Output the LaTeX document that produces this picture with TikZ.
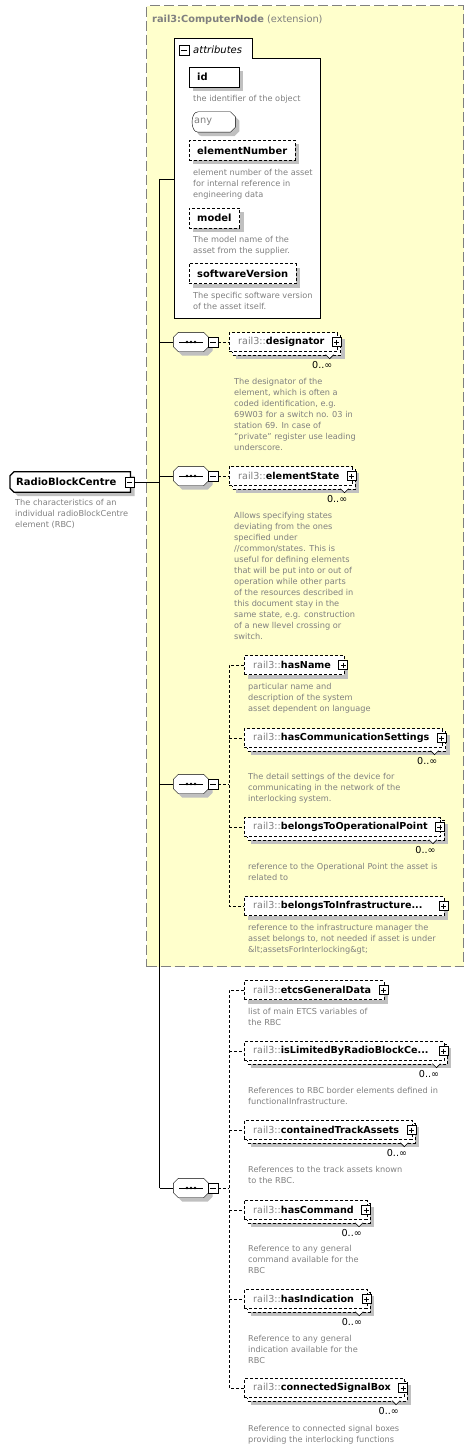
\documentclass[tikz,border=0pt]{standalone}
\usepackage{fontspec}
\setmainfont{DejaVu Sans}
\usetikzlibrary{shadows}
\pgfdeclarelayer{back}
\pgfsetlayers{back,main}
\definecolor{extyellow}{RGB}{255,255,204}
\definecolor{extborder}{RGB}{128,128,128}
\definecolor{descgray}{RGB}{128,128,128}
\definecolor{shadowgray}{RGB}{192,192,192}
\tikzset{
	shadowed/.style={drop shadow={shadow xshift=4pt, shadow yshift=-4pt, fill=shadowgray, opacity=1}},
	fine dash/.style={dash pattern=on 3pt off 2pt},
	extbox/.style={fill=extyellow, draw=extborder, line width=1.2pt, dash pattern=on 10pt off 4pt, inner sep=0pt},
	titletext/.style={anchor=west, text=descgray, font=\fontsize{9.8}{12}\selectfont, inner sep=0pt},
	tablabel/.style={anchor=west, font=\fontsize{10}{12}\selectfont\itshape, inner sep=0pt},
	attrbox/.style={draw, fill=white, minimum height=20pt, inner xsep=8pt, inner ysep=0pt, font=\fontsize{9.9}{12}\selectfont\bfseries, anchor=west},
	anytext/.style={anchor=west, text=descgray, font=\fontsize{9.8}{12}\selectfont, text width=36pt, align=left, minimum height=20pt, inner xsep=5pt, inner ysep=0pt},
	outline/.style={draw, fill=white, shadowed},
	elembox/.style={draw, fine dash, fill=white, minimum height=19pt, inner xsep=9pt, inner ysep=0pt, font=\fontsize{9.6}{12}\selectfont, anchor=west},
	rootbox/.style={minimum height=20pt, inner xsep=6pt, inner ysep=0pt, font=\fontsize{10}{12}\selectfont\bfseries, anchor=west},
	rootline/.style={outline, line width=1.2pt},
	desc/.style={text=descgray, font=\fontsize{8.2}{11}\selectfont, align=left, anchor=north west, inner sep=0pt},
	mult/.style={font=\fontsize{9.6}{12}\selectfont, anchor=north east, inner sep=0pt},
	seqicon/.style={minimum width=35pt, minimum height=19pt, inner sep=0pt},
	minusbox/.style={draw, fill=white, minimum size=9.5pt, inner sep=0pt,
		path picture={\draw ([xshift=2pt]path picture bounding box.west) -- ([xshift=-2pt]path picture bounding box.east);}},
	plusbox/.style={draw, fill=white, minimum size=9pt, inner sep=0pt,
		path picture={
			\draw ([xshift=2pt]path picture bounding box.west) -- ([xshift=-2pt]path picture bounding box.east);
			\draw ([yshift=-2pt]path picture bounding box.north) -- ([yshift=2pt]path picture bounding box.south);
		}},
	stackback/.style={draw, fine dash, fill=white, shadowed},
	notch/.style={draw, fill=white, line width=0.6pt},
	branch/.style={fine dash},
}
\begin{document}
\begin{tikzpicture}[x=1pt, y=-1pt, line width=0.8pt]
		\useasboundingbox (0,0) rectangle (476,1450);

		\begin{pgfonlayer}{back}
		\node[extbox, minimum width=317pt, minimum height=961pt, anchor=north west] (ext) at (146,5) {};
		\node[fill=white, minimum width=146pt, minimum height=260pt, anchor=north west, inner sep=0pt] (attrs) at (174,58) {};
		\node[fill=white, minimum width=78pt, minimum height=19pt, anchor=south west, inner sep=0pt] (attrtab) at (attrs.north west) {};
		\end{pgfonlayer}
		\node[titletext] (title) at (152,20) {\textbf{rail3:ComputerNode} (extension)};

		\draw (attrs.south west) -- (attrtab.north west) -- (attrtab.north east) -- (attrtab.south east) -- (attrs.north east) -- (attrs.south east) -- cycle;
		\node[minusbox] (attrminus) at (184,50) {};
		\node[tablabel] (attrlabel) at (193,50) {attributes};

		\node[attrbox, text width=34pt, align=left, shadowed] (attid) at (189,77) {id};
		\node[desc] (attiddesc) at (193,95) {the identifier of the object};
		\node[anytext] (attany) at (189,122) {any};
		\node[attrbox, fine dash, shadowed] (attelnum) at (189,150.5) {elementNumber};
		\node[desc] (attelnumdesc) at (193,169) {element number of the asset\\for internal reference in\\engineering data};
		\node[attrbox, fine dash, shadowed] (attmodel) at (189,218) {model};
		\node[desc] (attmodeldesc) at (193,236) {The model name of the\\asset from the supplier.};
		\node[attrbox, fine dash, shadowed] (attsw) at (189,273.5) {softwareVersion};
		\node[desc] (attswdesc) at (193,292) {The specific software version\\of the asset itself.};

		\coordinate (bustop) at (159.5,179);
		\coordinate (busbot) at (159.5,1188);
		\draw (bustop) -- (busbot);
		\draw (bustop) -- (attrs.west |- bustop);

		\node[rootbox] (rbc) at (10,482) {RadioBlockCentre\hspace*{8pt}};
		\node[minusbox] (rbcminus) at ([xshift=-1pt]rbc.east) {};
		\draw (rbcminus.east) -- (rbcminus.east -| bustop);
		\node[desc] (rbcdesc) at (15,499) {The characteristics of an\\individual radioBlockCentre\\element (RBC)};

		\node[seqicon] (seq1) at (191,342) {};
		\node[minusbox] (seq1minus) at (213,342) {};
		\draw (seq1.west -| bustop) -- (seq1.west);
		\draw ([xshift=-12pt]seq1.center) -- ([xshift=12pt]seq1.center);
		\fill ([xshift=-4pt]seq1.center) circle (1.4pt) (seq1.center) circle (1.4pt) ([xshift=4pt]seq1.center) circle (1.4pt);
		\node[elembox] (desig) at (229,342) {{\color{descgray}rail3::}\textbf{designator}\hspace*{4pt}};
		\node[plusbox] (desigplus) at ([xshift=-1pt]desig.east) {};
		\draw[branch] (seq1minus.east) -- (desig.west);
		\draw[notch] ([shift={(-12,3)}]desig.south east) -- ([shift={(-8,7)}]desig.south east) -- ([shift={(-4,3)}]desig.south east);
		\node[mult] (desigmult) at ([shift={(-5,9)}]desig.south east) {0..∞};
		\node[desc] (desigdesc) at (234,378) {The designator of the\\element, which is often a\\coded identification, e.g.\\69W03 for a switch no. 03 in\\station 69. In case of\\"private" register use leading\\underscore.};

		\node[seqicon] (seq2) at (191,476) {};
		\node[minusbox] (seq2minus) at (213,476) {};
		\draw (seq2.west -| bustop) -- (seq2.west);
		\draw ([xshift=-12pt]seq2.center) -- ([xshift=12pt]seq2.center);
		\fill ([xshift=-4pt]seq2.center) circle (1.4pt) (seq2.center) circle (1.4pt) ([xshift=4pt]seq2.center) circle (1.4pt);
		\node[elembox] (elstate) at (229,476) {{\color{descgray}rail3::}\textbf{elementState}\hspace*{4pt}};
		\node[plusbox] (elstateplus) at ([xshift=-1pt]elstate.east) {};
		\draw[branch] (seq2minus.east) -- (elstate.west);
		\draw[notch] ([shift={(-12,3)}]elstate.south east) -- ([shift={(-8,7)}]elstate.south east) -- ([shift={(-4,3)}]elstate.south east);
		\node[mult] (elstatemult) at ([shift={(-5,9)}]elstate.south east) {0..∞};
		\node[desc] (elstatedesc) at (234,512) {Allows specifying states\\deviating from the ones\\specified under\\//common/states. This is\\useful for defining elements\\that will be put into or out of\\operation while other parts\\of the resources described in\\this document stay in the\\same state, e.g. construction\\of a new llevel crossing or\\switch.};

		\node[seqicon] (seq3) at (191,784) {};
		\node[minusbox] (seq3minus) at (213,784) {};
		\draw (seq3.west -| bustop) -- (seq3.west);
		\draw ([xshift=-12pt]seq3.center) -- ([xshift=12pt]seq3.center);
		\fill ([xshift=-4pt]seq3.center) circle (1.4pt) (seq3.center) circle (1.4pt) ([xshift=4pt]seq3.center) circle (1.4pt);
		\coordinate (ch3) at (229,784);
		\draw[branch] (seq3minus.east) -- (ch3);

		\node[elembox, shadowed] (hasname) at (244,665) {{\color{descgray}rail3::}\textbf{hasName}\hspace*{4pt}};
		\node[plusbox] (hasnameplus) at ([xshift=-1pt]hasname.east) {};
		\node[desc] (hasnamedesc) at (248,683) {particular name and\\description of the system\\asset dependent on language};

		\node[elembox] (hascomm) at (244,738) {{\color{descgray}rail3::}\textbf{hasCommunicationSettings}\hspace*{4pt}};
		\node[plusbox] (hascommplus) at ([xshift=-1pt]hascomm.east) {};
		\draw[notch] ([shift={(-12,3)}]hascomm.south east) -- ([shift={(-8,7)}]hascomm.south east) -- ([shift={(-4,3)}]hascomm.south east);
		\node[mult] (hascommmult) at ([shift={(-5,9)}]hascomm.south east) {0..∞};
		\node[desc] (hascommdesc) at (248,773) {The detail settings of the device for\\communicating in the network of the\\interlocking system.};

		\node[elembox] (belop) at (244,827) {{\color{descgray}rail3::}\textbf{belongsToOperationalPoint}\hspace*{4pt}};
		\node[plusbox] (belopplus) at ([xshift=-1pt]belop.east) {};
		\draw[notch] ([shift={(-12,3)}]belop.south east) -- ([shift={(-8,7)}]belop.south east) -- ([shift={(-4,3)}]belop.south east);
		\node[mult] (belopmult) at ([shift={(-5,9)}]belop.south east) {0..∞};
		\node[desc] (belopdesc) at (248,863) {reference to the Operational Point the asset is\\related to};

		\node[elembox, shadowed, text width=182pt, align=left] (belinfra) at (244,906) {{\color{descgray}rail3::}\textbf{belongsToInfrastructure...}};
		\node[plusbox] (belinfraplus) at ([xshift=-1pt]belinfra.east) {};
		\node[desc] (belinfradesc) at (248,924) {reference to the infrastructure manager the\\asset belongs to, not needed if asset is under\\\&lt;assetsForInterlocking\&gt;};

		\draw[branch] (hasname.west) -| (ch3) |- (belinfra.west);
		\draw[branch] (ch3 |- hascomm.west) -- (hascomm.west);
		\draw[branch] (ch3 |- belop.west) -- (belop.west);

		\node[seqicon] (seq4) at (191,1188) {};
		\node[minusbox] (seq4minus) at (213,1188) {};
		\draw (busbot) -- (seq4.west);
		\draw ([xshift=-12pt]seq4.center) -- ([xshift=12pt]seq4.center);
		\fill ([xshift=-4pt]seq4.center) circle (1.4pt) (seq4.center) circle (1.4pt) ([xshift=4pt]seq4.center) circle (1.4pt);
		\coordinate (ch4) at (229,1188);
		\draw[branch] (seq4minus.east) -- (ch4);

		\node[elembox, shadowed] (etcs) at (244,990) {{\color{descgray}rail3::}\textbf{etcsGeneralData}\hspace*{4pt}};
		\node[plusbox] (etcsplus) at ([xshift=-1pt]etcs.east) {};
		\node[desc] (etcsdesc) at (248,1008) {list of main ETCS variables of\\the RBC};

		\node[elembox, text width=182pt, align=left] (islim) at (244,1051) {{\color{descgray}rail3::}\textbf{isLimitedByRadioBlockCe...}};
		\node[plusbox] (islimplus) at ([xshift=-1pt]islim.east) {};
		\draw[notch] ([shift={(-12,3)}]islim.south east) -- ([shift={(-8,7)}]islim.south east) -- ([shift={(-4,3)}]islim.south east);
		\node[mult] (islimmult) at ([shift={(-5,9)}]islim.south east) {0..∞};
		\node[desc] (islimdesc) at (248,1087) {References to RBC border elements defined in\\functionalInfrastructure.};

		\node[elembox] (contained) at (244,1130) {{\color{descgray}rail3::}\textbf{containedTrackAssets}\hspace*{4pt}};
		\node[plusbox] (containedplus) at ([xshift=-1pt]contained.east) {};
		\draw[notch] ([shift={(-12,3)}]contained.south east) -- ([shift={(-8,7)}]contained.south east) -- ([shift={(-4,3)}]contained.south east);
		\node[mult] (containedmult) at ([shift={(-5,9)}]contained.south east) {0..∞};
		\node[desc] (containeddesc) at (248,1166) {References to the track assets known\\to the RBC.};

		\node[elembox] (hascmd) at (244,1210) {{\color{descgray}rail3::}\textbf{hasCommand}\hspace*{4pt}};
		\node[plusbox] (hascmdplus) at ([xshift=-1pt]hascmd.east) {};
		\draw[notch] ([shift={(-12,3)}]hascmd.south east) -- ([shift={(-8,7)}]hascmd.south east) -- ([shift={(-4,3)}]hascmd.south east);
		\node[mult] (hascmdmult) at ([shift={(-5,9)}]hascmd.south east) {0..∞};
		\node[desc] (hascmddesc) at (248,1245) {Reference to any general\\command available for the\\RBC};

		\node[elembox] (hasind) at (244,1299) {{\color{descgray}rail3::}\textbf{hasIndication}\hspace*{4pt}};
		\node[plusbox] (hasindplus) at ([xshift=-1pt]hasind.east) {};
		\draw[notch] ([shift={(-12,3)}]hasind.south east) -- ([shift={(-8,7)}]hasind.south east) -- ([shift={(-4,3)}]hasind.south east);
		\node[mult] (hasindmult) at ([shift={(-5,9)}]hasind.south east) {0..∞};
		\node[desc] (hasinddesc) at (248,1335) {Reference to any general\\indication available for the\\RBC};

		\node[elembox] (sigbox) at (244,1388) {{\color{descgray}rail3::}\textbf{connectedSignalBox}\hspace*{4pt}};
		\node[plusbox] (sigboxplus) at ([xshift=-1pt]sigbox.east) {};
		\draw[notch] ([shift={(-12,3)}]sigbox.south east) -- ([shift={(-8,7)}]sigbox.south east) -- ([shift={(-4,3)}]sigbox.south east);
		\node[mult] (sigboxmult) at ([shift={(-5,9)}]sigbox.south east) {0..∞};
		\node[desc] (sigboxdesc) at (248,1425) {Reference to connected signal boxes\\providing the interlocking functions};

		\draw[branch] (etcs.west) -| (ch4) |- (sigbox.west);
		\draw[branch] (ch4 |- islim.west) -- (islim.west);
		\draw[branch] (ch4 |- contained.west) -- (contained.west);
		\draw[branch] (ch4 |- hascmd.west) -- (hascmd.west);
		\draw[branch] (ch4 |- hasind.west) -- (hasind.west);

		\begin{pgfonlayer}{back}
		\draw[outline] ([xshift=9pt]attany.north west) -- ([xshift=-5pt]attany.north east) -- ([yshift=-5pt]attany.north east) -- ([yshift=5pt]attany.south east) -- ([xshift=-5pt]attany.south east) -- ([xshift=9pt]attany.south west) to[out=180, in=180] ([xshift=9pt]attany.north west) -- cycle;
		\draw[rootline] ([xshift=4pt]rbc.north west) -- (rbc.north east) -- (rbc.south east) -- ([xshift=4pt]rbc.south west) -- ([yshift=4pt]rbc.south west) -- ([yshift=-4pt]rbc.north west) -- cycle;
		\draw[outline] ([xshift=5pt]seq1.north west) -- ([xshift=-5pt]seq1.north east) -- ([yshift=-5pt]seq1.north east) -- ([yshift=5pt]seq1.south east) -- ([xshift=-5pt]seq1.south east) -- ([xshift=5pt]seq1.south west) -- ([yshift=5pt]seq1.south west) -- ([yshift=-5pt]seq1.north west) -- cycle;
		\draw[outline] ([xshift=5pt]seq2.north west) -- ([xshift=-5pt]seq2.north east) -- ([yshift=-5pt]seq2.north east) -- ([yshift=5pt]seq2.south east) -- ([xshift=-5pt]seq2.south east) -- ([xshift=5pt]seq2.south west) -- ([yshift=5pt]seq2.south west) -- ([yshift=-5pt]seq2.north west) -- cycle;
		\draw[outline] ([xshift=5pt]seq3.north west) -- ([xshift=-5pt]seq3.north east) -- ([yshift=-5pt]seq3.north east) -- ([yshift=5pt]seq3.south east) -- ([xshift=-5pt]seq3.south east) -- ([xshift=5pt]seq3.south west) -- ([yshift=5pt]seq3.south west) -- ([yshift=-5pt]seq3.north west) -- cycle;
		\draw[outline] ([xshift=5pt]seq4.north west) -- ([xshift=-5pt]seq4.north east) -- ([yshift=-5pt]seq4.north east) -- ([yshift=5pt]seq4.south east) -- ([xshift=-5pt]seq4.south east) -- ([xshift=5pt]seq4.south west) -- ([yshift=5pt]seq4.south west) -- ([yshift=-5pt]seq4.north west) -- cycle;
		\draw[stackback] ([shift={(3,3)}]desig.north west) rectangle ([shift={(3,3)}]desig.south east);
		\draw[stackback] ([shift={(3,3)}]elstate.north west) rectangle ([shift={(3,3)}]elstate.south east);
		\draw[stackback] ([shift={(3,3)}]hascomm.north west) rectangle ([shift={(3,3)}]hascomm.south east);
		\draw[stackback] ([shift={(3,3)}]belop.north west) rectangle ([shift={(3,3)}]belop.south east);
		\draw[stackback] ([shift={(3,3)}]islim.north west) rectangle ([shift={(3,3)}]islim.south east);
		\draw[stackback] ([shift={(3,3)}]contained.north west) rectangle ([shift={(3,3)}]contained.south east);
		\draw[stackback] ([shift={(3,3)}]hascmd.north west) rectangle ([shift={(3,3)}]hascmd.south east);
		\draw[stackback] ([shift={(3,3)}]hasind.north west) rectangle ([shift={(3,3)}]hasind.south east);
		\draw[stackback] ([shift={(3,3)}]sigbox.north west) rectangle ([shift={(3,3)}]sigbox.south east);
		\end{pgfonlayer}
\end{tikzpicture}
\end{document}
